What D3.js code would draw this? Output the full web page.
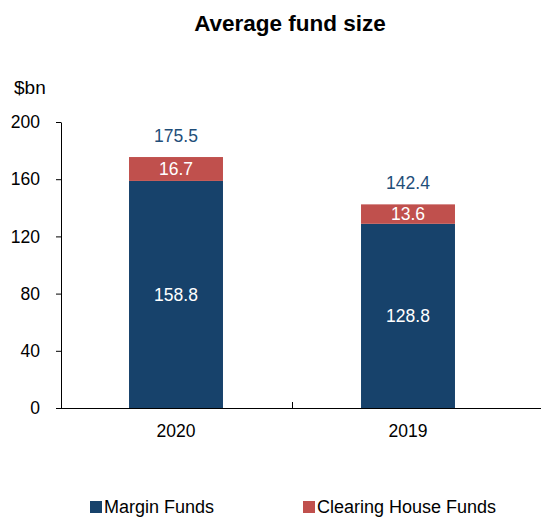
<!DOCTYPE html>
<html>
<head>
<meta charset="utf-8">
<style>
  body {margin: 0; background: #fff;}
  svg {display: block; font-family: "Liberation Sans", Arial, sans-serif;}
</style>
<script src="https://d3js.org/d3.v7.min.js"></script>
</head>
<body>
<svg id="chart" width="541" height="517"></svg>
<script>
// data
var years = ["2020", "2019"];
var marginFunds = [158.8, 128.8];
var clearingFunds = [16.7, 13.6];
var totals = [175.5, 142.4];
var yTicks = [0, 40, 80, 120, 160, 200];
var seriesNames = ["Margin Funds", "Clearing House Funds"];
var colors = ["#17426b", "#c0504d"];

var svg = d3.select("#chart");

var x = d3.scaleBand().domain(years).range([60, 524]).padding(0);
var y = d3.scaleLinear().domain([0, 200]).range([408, 122]);
var barW = x.bandwidth() * 0.405;

// title
svg.append("text")
  .attr("x", 290).attr("y", 31)
  .attr("text-anchor", "middle")
  .style("font-size", "22.5px").style("font-weight", "bold")
  .text("Average fund size");

svg.append("text")
  .attr("x", 14).attr("y", 94)
  .style("font-size", "19px")
  .text("$bn");

// y axis
var yAxis = d3.axisLeft(y).tickValues(yTicks).tickSize(5).tickSizeOuter(0);
var gy = svg.append("g").attr("transform", "translate(61,0)").call(yAxis);
gy.select(".domain").attr("stroke", "#000");
gy.selectAll("text").style("font-size", "17.5px").attr("fill", "#000").attr("x", -21);

// bars
var stacked = years.map(function (d, i) {
  return {year: d, m: marginFunds[i], c: clearingFunds[i], t: totals[i]};
});

svg.selectAll(".mbar").data(stacked).enter().append("rect")
  .attr("x", function (d) { return x(d.year) + x.bandwidth() / 2 - barW / 2; })
  .attr("y", function (d) { return y(d.m); })
  .attr("width", barW)
  .attr("height", function (d) { return y(0) - y(d.m); })
  .attr("fill", colors[0]);

svg.selectAll(".cbar").data(stacked).enter().append("rect")
  .attr("x", function (d) { return x(d.year) + x.bandwidth() / 2 - barW / 2; })
  .attr("y", function (d) { return y(d.m + d.c); })
  .attr("width", barW)
  .attr("height", function (d) { return y(d.m) - y(d.m + d.c); })
  .attr("fill", colors[1]);

// labels inside the bars
svg.selectAll(".mlab").data(stacked).enter().append("text")
  .attr("x", function (d) { return x(d.year) + x.bandwidth() / 2; })
  .attr("y", function (d) { return (y(0) + y(d.m)) / 2; })
  .attr("dy", "0.35em")
  .attr("text-anchor", "middle")
  .attr("fill", "#fff").style("font-size", "17.5px")
  .text(function (d) { return d.m.toFixed(1); });

svg.selectAll(".clab").data(stacked).enter().append("text")
  .attr("x", function (d) { return x(d.year) + x.bandwidth() / 2; })
  .attr("y", function (d) { return (y(d.m) + y(d.m + d.c)) / 2; })
  .attr("dy", "0.35em")
  .attr("text-anchor", "middle")
  .attr("fill", "#fff").style("font-size", "17.5px")
  .text(function (d) { return d.c.toFixed(1); });

svg.selectAll(".tlab").data(stacked).enter().append("text")
  .attr("x", function (d) { return x(d.year) + x.bandwidth() / 2; })
  .attr("y", function (d) { return y(d.t) - 21; })
  .attr("dy", "0.35em")
  .attr("text-anchor", "middle")
  .attr("fill", "#1f4e79").style("font-size", "17.5px")
  .text(function (d) { return d.t.toFixed(1); });

// x axis
svg.append("line")
  .attr("x1", 60).attr("x2", 541)
  .attr("y1", y(0) + 0.5).attr("y2", y(0) + 0.5)
  .attr("stroke", "#000");
svg.append("line")
  .attr("x1", x(years[1]) + 0.5).attr("x2", x(years[1]) + 0.5)
  .attr("y1", y(0)).attr("y2", y(0) - 6)
  .attr("stroke", "#000");
svg.selectAll(".xlab").data(years).enter().append("text")
  .attr("x", function (d) { return x(d) + x.bandwidth() / 2; })
  .attr("y", 437)
  .attr("text-anchor", "middle")
  .style("font-size", "17.5px")
  .text(function (d) { return d; });

// legend
var legendX = [90, 303];
var lg = svg.selectAll(".leg").data(seriesNames).enter().append("g")
  .attr("transform", function (d, i) { return "translate(" + legendX[i] + ",501)"; });
lg.append("rect").attr("width", 12).attr("height", 12)
  .attr("fill", function (d, i) { return colors[i]; });
lg.append("text").attr("x", 14).attr("y", 12)
  .style("font-size", "18px")
  .text(function (d) { return d; });
</script>
</body>
</html>
